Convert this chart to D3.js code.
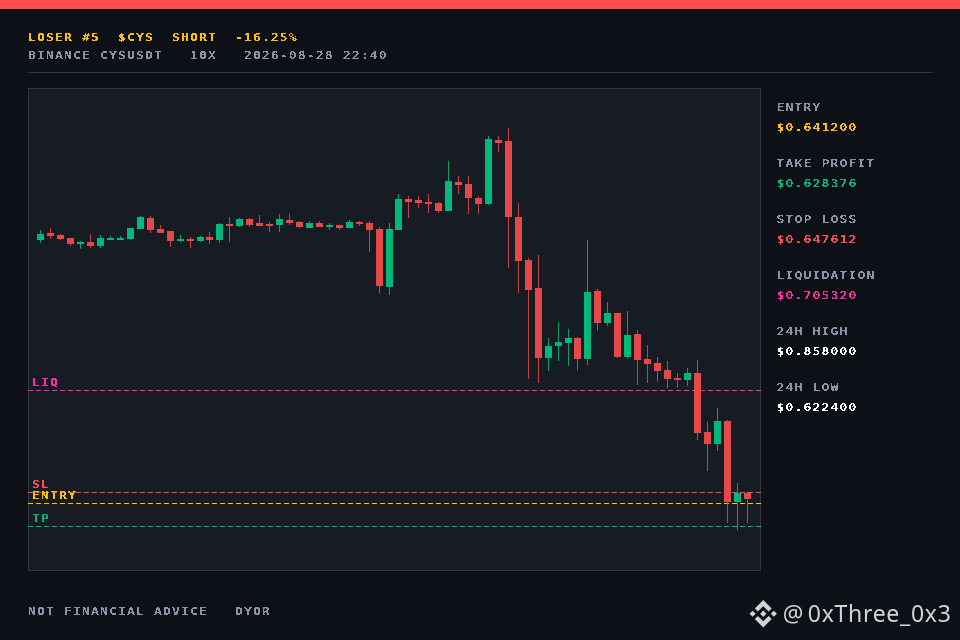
<!DOCTYPE html>
<html lang="en">
  <head>
    <meta charset="utf-8">
    <title>LOSER #5 $CYS</title>
    <script src="https://d3js.org/d3.v7.min.js"></script>
    <style>
      html, body { margin: 0; padding: 0; background: #0d1117; overflow: hidden; }
      svg { display: block; }
      .px text {
        font-family: "DejaVu Sans Mono", monospace;
        font-weight: bold;
        font-size: 10.5px;
        letter-spacing: 0.88px;
        white-space: pre;
      }
    </style>
  </head>
  <body>
    <div id="chart"></div>
    <script type="text/javascript">
      "use strict"
      // candles, oldest first
      var opens = [.79075,.79472,.79359,.79188,.78848,.78961,.78734,.79075,.79075,.79132,.79699,.80324,.79699,.79586,.79018,.79132,.79018,.79245,
        .79075,.79983,.79870,.80267,.80040,.79983,.79926,.80210,.80097,.79756,.80040,.79813,.79926,.79756,.80097,.80040,.79699,.76408,
        .79642,.81402,.81345,.81232,.81175,.80721,.82367,.82253,.81459,.81118,.84751,.84694,.80380,.77940,.76351,.72378,.73059,.73229,
        .73513,.72321,.76180,.74364,.74932,.72435,.73740,.72321,.72094,.71697,.71243,.71130,.71527,.68178,.67497,.68803,.64206,.64716];
      var closes = [.79415,.79302,.79132,.78848,.78961,.78734,.79188,.79188,.79188,.79756,.80380,.79642,.79472,.79018,.79132,.79018,.79245,.79075,
        .79983,.79870,.80267,.79926,.79870,.79870,.80267,.80040,.79813,.80040,.79813,.79926,.79756,.80097,.79983,.79642,.76464,.79699,
        .81402,.81232,.81175,.81118,.80721,.82424,.82197,.81459,.81118,.84807,.84580,.80380,.77883,.76237,.72378,.73059,.73286,.73513,
        .72321,.76124,.74364,.74932,.72435,.73683,.72265,.72038,.71640,.71186,.71130,.71527,.68121,.67497,.68803,.64206,.64716,.64376];
      var highs = [.79642,.79756,.79415,.79188,.79018,.79415,.79359,.79302,.79302,.79756,.80437,.80437,.79926,.79586,.79359,.79245,.79302,.79529,
        .80040,.80380,.80324,.80324,.80494,.80097,.80551,.80551,.80153,.80153,.80153,.80040,.79926,.80210,.80153,.80153,.79813,.80040,
        .81686,.81572,.81572,.81686,.81232,.83559,.82707,.82707,.81572,.84977,.84977,.85432,.81175,.78053,.78224,.73513,.74421,.74024,
        .73570,.79075,.76294,.75556,.74932,.75046,.73967,.73116,.72435,.72208,.71527,.71811,.72265,.68746,.69540,.68859,.65284,.64773];
      var lows = [.78905,.79132,.79075,.78734,.78564,.78621,.78621,.79075,.79075,.79075,.79699,.79472,.79472,.78678,.78961,.78621,.78961,.78848,
        .78905,.78961,.79813,.79813,.79870,.79529,.79529,.79926,.79756,.79756,.79813,.79642,.79642,.79756,.79870,.78394,.76010,.75953,
        .79642,.80324,.80891,.80608,.80608,.80721,.81686,.80551,.80551,.81061,.84069,.77486,.76067,.71186,.70959,.71640,.72208,.71924,
        .71697,.71981,.73910,.74194,.72378,.72321,.70846,.70959,.71016,.70675,.70675,.70789,.67724,.65965,.67100,.63014,.62616,.63014];

      // price levels across the plot
      var levelNames = ["LIQ", "SL", "ENTRY", "TP"];
      var levelPrices = [0.705320, 0.647612, 0.641200, 0.628376];
      var levelColors = ["#ff2ea6", "#ff4d4d", "#ffc107", "#00b87a"];

      // right hand panel
      var panelLabels = ["ENTRY", "TAKE PROFIT", "STOP LOSS", "LIQUIDATION", "24H HIGH", "24H LOW"];
      var panelValues = ["$0.641200", "$0.628376", "$0.647612", "$0.705320", "$0.858000", "$0.622400"];
      var panelColors = ["#ffc107", "#00b87a", "#ff4d4d", "#ff2ea6", "#ffffff", "#ffffff"];

      var titleLine = "LOSER #5  $CYS  SHORT  -16.25%";
      var infoLine = "BINANCE CYSUSDT   10X   2026-08-28 22:40";
      var footLine = "NOT FINANCIAL ADVICE   DYOR";
      var handle = "@ 0xThree_0x3";

      var larguraSVG = 960, alturaSVG = 640;
      var plot = {left: 28, top: 88, right: 761, bottom: 571};
      var grey = "#8b93a7", red = "#e54848", green = "#00b87a";

      var svg = d3.select("#chart").append("svg")
          .attr("width", larguraSVG)
          .attr("height", alturaSVG);

      // hard edged text, close to the bitmap look of the original
      var hard = svg.append("defs").append("filter")
          .attr("id", "hard")
          .attr("color-interpolation-filters", "sRGB")
          .attr("filterUnits", "userSpaceOnUse")
          .attr("x", 0).attr("y", 0).attr("width", larguraSVG).attr("height", alturaSVG);
      hard.append("feComponentTransfer").append("feFuncA")
          .attr("type", "discrete")
          .attr("tableValues", "0 0 1 1");

      svg.append("rect")
          .attr("width", larguraSVG).attr("height", alturaSVG)
          .attr("fill", "#0d1117");
      svg.append("rect")
          .attr("width", larguraSVG).attr("height", 9)
          .attr("fill", "#ff4d4d");
      svg.append("line")
          .attr("x1", 28).attr("x2", 933)
          .attr("y1", 72.5).attr("y2", 72.5)
          .attr("stroke", "#30363f");
      svg.append("rect")
          .attr("x", plot.left + .5).attr("y", plot.top + .5)
          .attr("width", plot.right - plot.left - 1)
          .attr("height", plot.bottom - plot.top - 1)
          .attr("fill", "#161b24")
          .attr("stroke", "#30363f");

      /*
       * Scales
       */
      var x = d3.scalePoint()
          .domain(d3.range(opens.length))
          .range([40.93, 747.03]);
      var y = d3.scaleLinear()
          .domain([0.60346, 0.87645])
          .range([570, 89]);

      /*
       * Levels
       */
      var levels = svg.append("g");
      levels.selectAll("line")
          .data(levelPrices)
          .enter().append("line")
            .attr("x1", plot.left)
            .attr("x2", plot.right)
            .attr("y1", d => Math.floor(y(d)) + .5)
            .attr("y2", d => Math.floor(y(d)) + .5)
            .attr("stroke", (d, i) => levelColors[i])
            .attr("stroke-dasharray", "5,3");

      /*
       * Candles
       */
      var candles = svg.append("g").selectAll("g")
          .data(opens)
          .enter().append("g")
            .attr("fill", (d, i) => closes[i] >= d ? green : red);
      candles.append("rect")
          .attr("x", (d, i) => Math.floor(x(i)))
          .attr("width", 1)
          .attr("fill-opacity", .85)
          .attr("y", (d, i) => Math.round(y(highs[i])))
          .attr("height", (d, i) => Math.round(y(lows[i])) - Math.round(y(highs[i])));
      candles.append("rect")
          .attr("x", (d, i) => Math.floor(x(i)) - 3)
          .attr("width", 7)
          .attr("y", (d, i) => Math.round(y(Math.max(d, closes[i]))))
          .attr("height", (d, i) => Math.round(y(Math.min(d, closes[i]))) - Math.round(y(Math.max(d, closes[i]))));

      /*
       * Text, stretched sideways to the wide letters of the original
       */
      function pixelText(sel, px, py) {
        return sel.attr("transform", (d, i) => "translate(" + px(d, i) + "," + py(d, i) + ") scale(1.25,1)");
      }
      var txt = svg.append("g").attr("class", "px").attr("filter", "url(#hard)");
      pixelText(txt.append("text").attr("fill", "#ffc107").text(titleLine), () => 28, () => 41);
      pixelText(txt.append("text").attr("fill", grey).text(infoLine), () => 28, () => 59);
      pixelText(txt.append("text").attr("fill", grey).text(footLine), () => 28, () => 615);

      pixelText(txt.selectAll(".lvl")
          .data(levelNames)
          .enter().append("text")
            .attr("class", "lvl")
            .attr("fill", (d, i) => levelColors[i])
            .text(d => d), () => 32, (d, i) => Math.floor(y(levelPrices[i])) - 4);

      pixelText(txt.selectAll(".lab")
          .data(panelLabels)
          .enter().append("text")
            .attr("class", "lab")
            .attr("fill", grey)
            .text(d => d), () => 776.5, (d, i) => 111 + i * 56);
      pixelText(txt.selectAll(".val")
          .data(panelValues)
          .enter().append("text")
            .attr("class", "val")
            .attr("fill", (d, i) => panelColors[i])
            .text(d => d), () => 776.5, (d, i) => 131 + i * 56);

      /*
       * Watermark
       */
      svg.append("g")
          .attr("transform", "translate(749.5,600) scale(0.217)")
          .attr("fill", "#d2d3d5")
          .append("path")
            .attr("d", "M38.73 53.2l24.59-24.58 24.6 24.6 14.3-14.31L63.32 0 24.43 38.9z"
              + "M0 63.31l14.3-14.31 14.31 14.31-14.31 14.3z"
              + "M38.73 73.41L63.32 98l24.6-24.6 14.31 14.29-38.9 38.91-38.91-38.88z"
              + "M98 63.31L112.3 49l14.31 14.3-14.31 14.32z"
              + "M77.83 63.3L63.32 48.78 52.59 59.51l-1.24 1.23-2.54 2.54 14.51 14.5 14.51-14.47z");
      svg.append("text")
          .attr("x", 951.5)
          .attr("y", 622)
          .attr("text-anchor", "end")
          .attr("fill", "#d2d3d5")
          .style("font-family", "'Noto Sans', sans-serif")
          .style("font-size", "23px")
          .style("letter-spacing", "0.7px")
          .style("word-spacing", "-3px")
          .text(handle);
    </script>
  </body>
</html>
